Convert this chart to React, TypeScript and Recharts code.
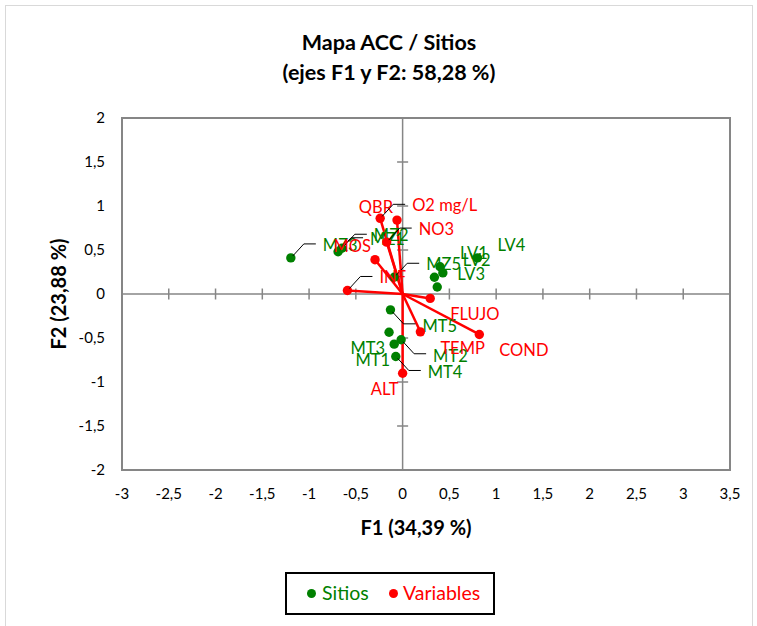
import React from 'react';
import { ScatterChart, Scatter, XAxis, YAxis, ReferenceLine, ReferenceArea } from 'recharts';

// ---- data ----
const xTicks = [-3, -2.5, -2, -1.5, -1, -0.5, 0, 0.5, 1, 1.5, 2, 2.5, 3, 3.5];
const yTicks = [-2, -1.5, -1, -0.5, 0, 0.5, 1, 1.5, 2];

const siteNames = ['MZ3', 'MZ1', 'MZ2', 'MZ5', 'MZ4', 'LV1', 'LV2', 'LV3', 'LV4', 'MT5', 'MT3', 'MT2', 'MT1', 'MT4'];
const siteF1 = [-1.195, -0.69, -0.65, -0.09, 0.34, 0.4, 0.43, 0.37, 0.8, -0.13, -0.145, -0.016, -0.09, -0.073];
const siteF2 = [0.41, 0.48, 0.52, 0.19, 0.19, 0.31, 0.24, 0.08, 0.41, -0.18, -0.435, -0.52, -0.57, -0.71];

const varNames = ['QBR', 'O2 mg/L', 'NO3', 'MOS', 'INF', 'FLUJO', 'TEMP', 'COND', 'ALT'];
const varF1 = [-0.06, -0.24, -0.17, -0.295, -0.59, 0.295, 0.19, 0.82, 0.0];
const varF2 = [0.84, 0.86, 0.59, 0.39, 0.04, -0.05, -0.43, -0.46, -0.9];

const sites = siteNames.map((name, i) => ({ name, x: siteF1[i], y: siteF2[i] }));
const variables = varNames.map((name, i) => ({ name, x: varF1[i], y: varF2[i] }));

// ---- label layout (style) ----
type Place = { side: 'r' | 'l'; up: boolean; leader: boolean; hidden?: boolean };
const placement: Record<string, Place> = {
  MZ3: { side: 'r', up: true, leader: true },
  MZ1: { side: 'r', up: true, leader: true },
  MZ2: { side: 'r', up: true, leader: true },
  MZ5: { side: 'r', up: true, leader: true },
  MZ4: { side: 'r', up: true, leader: false, hidden: true },
  LV1: { side: 'r', up: true, leader: false },
  LV2: { side: 'r', up: true, leader: false },
  LV3: { side: 'r', up: true, leader: false },
  LV4: { side: 'r', up: true, leader: false },
  MT5: { side: 'r', up: false, leader: true },
  MT2: { side: 'r', up: false, leader: true },
  MT4: { side: 'r', up: false, leader: true },
  MT3: { side: 'l', up: false, leader: false },
  MT1: { side: 'l', up: false, leader: false },
  QBR: { side: 'l', up: true, leader: false },
  'O2 mg/L': { side: 'r', up: true, leader: true },
  NO3: { side: 'r', up: true, leader: true },
  MOS: { side: 'l', up: true, leader: false },
  INF: { side: 'r', up: true, leader: true },
  FLUJO: { side: 'r', up: false, leader: false },
  TEMP: { side: 'r', up: false, leader: false },
  COND: { side: 'r', up: false, leader: false },
  ALT: { side: 'l', up: false, leader: false },
};

const GREEN = '#008000';
const RED = '#FF0000';
const FONT = 'Lato, "Open Sans", sans-serif';

const makeShape = (color: string) => (props: any) => {
  const { cx, cy, payload } = props;
  if (cx == null || cy == null) return <g />;
  const p = placement[payload.name] ?? { side: 'r', up: true, leader: false };
  const s = p.up ? -1 : 1;
  const ty = cy + (p.up ? -13 : 16);
  let tx: number;
  let anchor: 'start' | 'end' = 'start';
  let leader: React.ReactNode = null;
  if (p.leader) {
    leader = (
      <polyline
        points={`${cx + 2},${cy + 2 * s} ${cx + 13},${cy + 14 * s} ${cx + 25},${cy + 14 * s}`}
        fill="none"
        stroke="#000"
        strokeWidth={1}
      />
    );
    tx = cx + 32;
  } else if (p.side === 'r') {
    tx = cx + 20;
  } else {
    tx = cx - 4;
    anchor = 'end';
  }
  return (
    <g>
      <circle cx={cx} cy={cy} r={4.7} fill={color} />
      {leader}
      {!p.hidden && (
        <text x={tx} y={ty} dy="0.35em" textAnchor={anchor} fill={color} fontSize={16.5} fontFamily={FONT}>
          {payload.name}
        </text>
      )}
    </g>
  );
};

const fmt = (v: number) => String(v).replace('.', ',');

export default function App() {
  return (
    <div style={{ position: 'absolute', left: 0, top: 0, width: 757, height: 626, background: '#fff', fontFamily: FONT }}>
      <div
        style={{
          position: 'absolute',
          left: 5,
          top: 5,
          width: 746,
          height: 630,
          border: '1px solid #d9d9d9',
        }}
      />
      <div
        style={{
          position: 'absolute',
          left: 189,
          top: 27,
          width: 400,
          textAlign: 'center',
          fontWeight: 700,
          fontSize: 21.5,
          lineHeight: '30px',
          color: '#000',
        }}
      >
        <div>Mapa ACC / Sitios</div>
        <div>(ejes F1 y F2: 58,28 %)</div>
      </div>
      <div style={{ position: 'absolute', left: 0, top: 0 }}>
        <ScatterChart width={757} height={626} margin={{ top: 118, right: 27, bottom: 126, left: 82 }}>
          <XAxis
            type="number"
            dataKey="x"
            domain={[-3, 3.5]}
            ticks={xTicks}
            axisLine={false}
            tickLine={false}
            tickSize={0}
            tickMargin={18}
            height={30}
            tickFormatter={fmt}
            tick={{ fill: '#000', fontSize: 15, fontFamily: FONT }}
            allowDataOverflow
          />
          <YAxis
            type="number"
            dataKey="y"
            domain={[-2, 2]}
            ticks={yTicks}
            axisLine={false}
            tickLine={false}
            tickSize={0}
            tickMargin={17}
            width={40}
            tickFormatter={fmt}
            tick={{ fill: '#000', fontSize: 15, fontFamily: FONT }}
            allowDataOverflow
          />
          <ReferenceArea x1={-3} x2={3.5} y1={-2} y2={2} fill="none" stroke="#868686" strokeWidth={2} />
          <ReferenceLine x={0} stroke="#868686" strokeWidth={1.5} />
          <ReferenceLine y={0} stroke="#868686" strokeWidth={1.5} />
          {xTicks
            .filter((t) => t !== 0)
            .map((t) => (
              <ReferenceLine
                key={'xt' + t}
                segment={[
                  { x: t, y: -0.0625 },
                  { x: t, y: 0.0625 },
                ]}
                stroke="#868686"
                strokeWidth={1.5}
              />
            ))}
          {yTicks
            .filter((t) => t !== 0)
            .map((t) => (
              <ReferenceLine
                key={'yt' + t}
                segment={[
                  { x: -0.059, y: t },
                  { x: 0.059, y: t },
                ]}
                stroke="#868686"
                strokeWidth={1.5}
              />
            ))}
          {variables.map((v) => (
            <ReferenceLine
              key={'vec' + v.name}
              segment={[
                { x: 0, y: 0 },
                { x: v.x, y: v.y },
              ]}
              stroke={RED}
              strokeWidth={2.5}
            />
          ))}
          <Scatter name="Sitios" data={sites} fill={GREEN} shape={makeShape(GREEN)} isAnimationActive={false} />
          <Scatter name="Variables" data={variables} fill={RED} shape={makeShape(RED)} isAnimationActive={false} />
        </ScatterChart>
      </div>
      <div
        style={{
          position: 'absolute',
          left: 0,
          top: 515,
          width: 832,
          textAlign: 'center',
          fontWeight: 700,
          fontSize: 20,
          lineHeight: '24px',
          color: '#000',
        }}
      >
        F1 (34,39 %)
      </div>
      <div
        style={{
          position: 'absolute',
          left: 58 - 100,
          top: 294 - 12,
          width: 200,
          textAlign: 'center',
          fontWeight: 700,
          fontSize: 20,
          lineHeight: '24px',
          color: '#000',
          transform: 'rotate(-90deg)',
        }}
      >
        F2 (23,88 %)
      </div>
      <div
        style={{
          position: 'absolute',
          left: 285,
          top: 572,
          width: 210,
          height: 43,
          boxSizing: 'border-box',
          border: '2px solid #000',
          background: '#fff',
          fontSize: 19.5,
        }}
      >
        <div style={{ position: 'absolute', left: 20, top: 15, width: 9, height: 9, borderRadius: '50%', background: GREEN }} />
        <div style={{ position: 'absolute', left: 35, top: 7, lineHeight: '24px', color: GREEN }}>Sitios</div>
        <div style={{ position: 'absolute', left: 102, top: 15, width: 9, height: 9, borderRadius: '50%', background: RED }} />
        <div style={{ position: 'absolute', left: 116, top: 7, lineHeight: '24px', color: RED }}>Variables</div>
      </div>
    </div>
  );
}
